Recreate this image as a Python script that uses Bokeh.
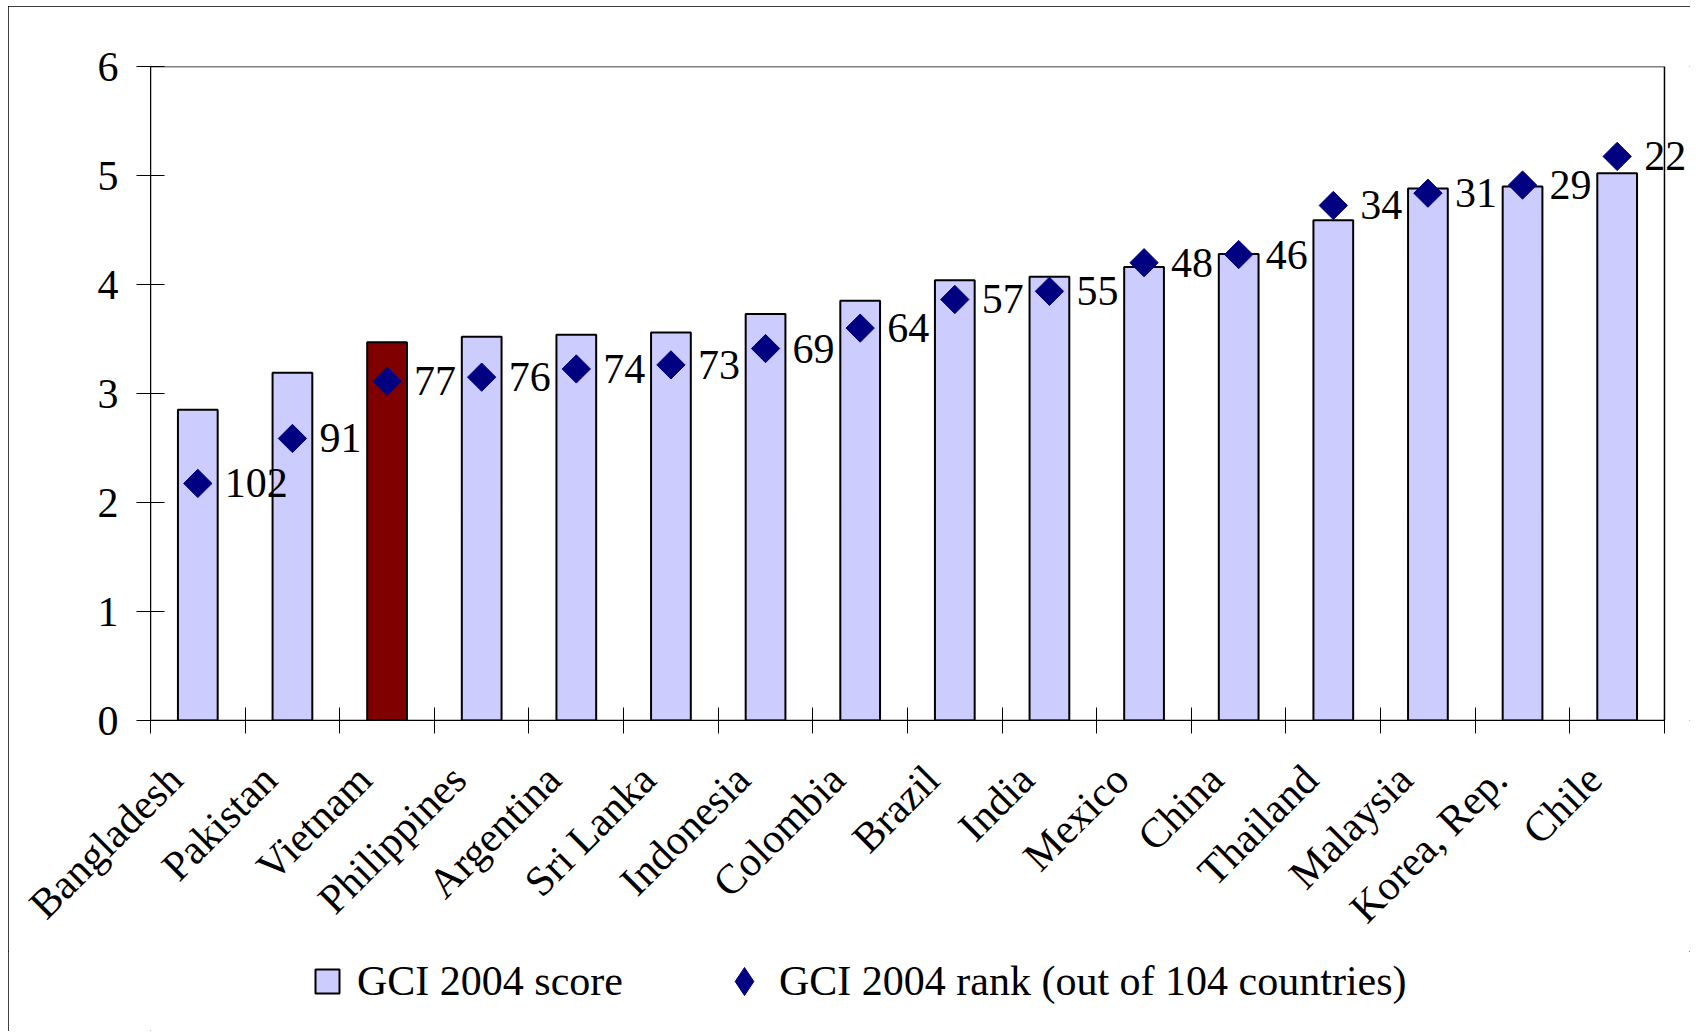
import math
from bokeh.plotting import figure
from bokeh.layouts import column
from bokeh.models import (Range1d, LinearAxis, FixedTicker, BoxAnnotation,
                          ColumnDataSource, LabelSet, Legend, LegendItem)
from bokeh.embed import file_html
from bokeh.resources import INLINE

# ---------------- data ----------------
countries = ["Bangladesh", "Pakistan", "Vietnam", "Philippines", "Argentina", "Sri Lanka",
             "Indonesia", "Colombia", "Brazil", "India", "Mexico", "China", "Thailand",
             "Malaysia", "Korea, Rep.", "Chile"]
scores = [2.85, 3.19, 3.47, 3.52, 3.54, 3.56, 3.73, 3.85, 4.04, 4.07, 4.16, 4.28, 4.59,
          4.88, 4.90, 5.02]
ranks = [102, 91, 77, 76, 74, 73, 69, 64, 57, 55, 48, 46, 34, 31, 29, 22]
highlight = ["Vietnam"]
score_ticks = [0, 1, 2, 3, 4, 5, 6]
rank_axis = (160, 0)   # hidden secondary axis (reversed)
series_names = ["GCI 2004 score", "GCI 2004 rank (out of 104 countries)"]

# ---------------- styles ----------------
FONT = "Liberation Serif"
FS = "42px"
BAR = "#CCCCFF"
HI = "#800000"
DIA = "#000080"
LABEL_SHIFT = 0.24   # rotated category labels sit a little left of the bar centre
RIGHT_ROOM = 0.275   # room right of the plot area for the last rank label

n = len(countries)
slot = list(range(n))                       # category slots
xpos = [i + 0.5 for i in slot]              # slot centres
bar_colors = [HI if c in highlight else BAR for c in countries]

src = ColumnDataSource(dict(x=xpos, country=countries, score=scores, rank=ranks,
                            rank_label=[str(r) for r in ranks], color=bar_colors))

p = figure(width=1682, height=945, x_range=Range1d(0, n + RIGHT_ROOM),
           y_range=Range1d(score_ticks[0], score_ticks[-1]),
           output_backend="svg", toolbar_location=None, x_axis_location=None,
           min_border_left=142, min_border_right=0, min_border_top=60, min_border_bottom=231)
p.extra_y_ranges = {"rank": Range1d(*rank_axis)}

p.xgrid.visible = False
p.ygrid.visible = False
p.outline_line_color = None
p.background_fill_color = "white"
p.border_fill_color = "white"

# plot-area border (top and right edges of the chart area)
p.add_layout(BoxAnnotation(left=0, right=n, bottom=score_ticks[0], top=score_ticks[-1],
                           fill_alpha=0, line_color="black", line_alpha=1, line_width=1.5))

# bars
p.vbar(x="x", top="score", width=0.42, source=src, fill_color="color",
       line_color="black", line_width=2)

# rank diamonds
p.scatter(x="x", y="rank", y_range_name="rank", source=src, marker="square",
          angle=math.pi / 4, size=20, fill_color=DIA, line_color=DIA, line_width=1)

labels = LabelSet(x="x", y="rank", y_range_name="rank", text="rank_label", source=src,
                  x_offset=27, text_baseline="middle", text_align="left",
                  text_font=FONT, text_font_size=FS, text_color="black")
p.add_layout(labels)

# y axis
yax = p.yaxis[0]
yax.ticker = FixedTicker(ticks=score_ticks)
yax.major_tick_in = 14
yax.major_tick_out = 14
yax.minor_tick_line_color = None
yax.major_label_text_font = FONT
yax.major_label_text_font_size = FS
yax.major_label_text_color = "black"
yax.major_label_standoff = 18
yax.axis_line_color = "black"
yax.major_tick_line_color = "black"

# x axis: labels near each category, tick marks between categories
label_pos = [c - LABEL_SHIFT for c in xpos]
edge_pos = list(range(n + 1))
xax = LinearAxis(ticker=FixedTicker(ticks=label_pos, minor_ticks=edge_pos), bounds=(0, n),
                 major_label_overrides={pos: c for pos, c in zip(label_pos, countries)},
                 major_tick_line_color=None, major_tick_in=0, major_tick_out=13,
                 minor_tick_in=13, minor_tick_out=13, minor_tick_line_color="black",
                 axis_line_color="black", major_label_orientation=math.pi / 4,
                 major_label_text_font=FONT, major_label_text_font_size=FS,
                 major_label_text_color="black", major_label_standoff=39)
p.add_layout(xax, "below")

# ---------------- legend strip ----------------
lg = figure(width=1682, height=80, output_backend="svg", toolbar_location=None,
            x_axis_location=None, y_axis_location=None, min_border=0,
            outline_line_color=None)
lg.grid.visible = False
lg.background_fill_color = "white"
lg.border_fill_color = "white"
nan = float("nan")
leg_bar = lg.scatter(x=[nan], y=[nan], marker="square", size=24, fill_color=BAR,
                     line_color="black", line_width=2)
leg_dia = lg.scatter(x=[nan], y=[nan], marker="diamond", size=28, fill_color=DIA,
                     line_color=DIA)

common = dict(orientation="horizontal", padding=0, margin=0, border_line_color=None,
              background_fill_alpha=0, label_text_font=FONT, label_text_font_size=FS,
              label_text_color="black", label_standoff=0)
legend_a = Legend(items=[LegendItem(label=series_names[0], renderers=[leg_bar])],
                  location=(147, 20), glyph_width=60, glyph_height=60, **common)
legend_b = Legend(items=[LegendItem(label=series_names[1], renderers=[leg_dia])],
                  location=(559, 15), glyph_width=70, glyph_height=70, **common)
lg.add_layout(legend_a)
lg.add_layout(legend_b)

page = column(p, lg, spacing=0, width=1682, height=1025, sizing_mode="fixed")
page.styles = {"outline": "1px solid black", "outline-offset": "-1px",
               "margin-left": "8px", "margin-top": "6px",
               "width": "1682px", "max-width": "1682px", "height": "1025px"}

open("out.html", "w").write(file_html(page, INLINE))
